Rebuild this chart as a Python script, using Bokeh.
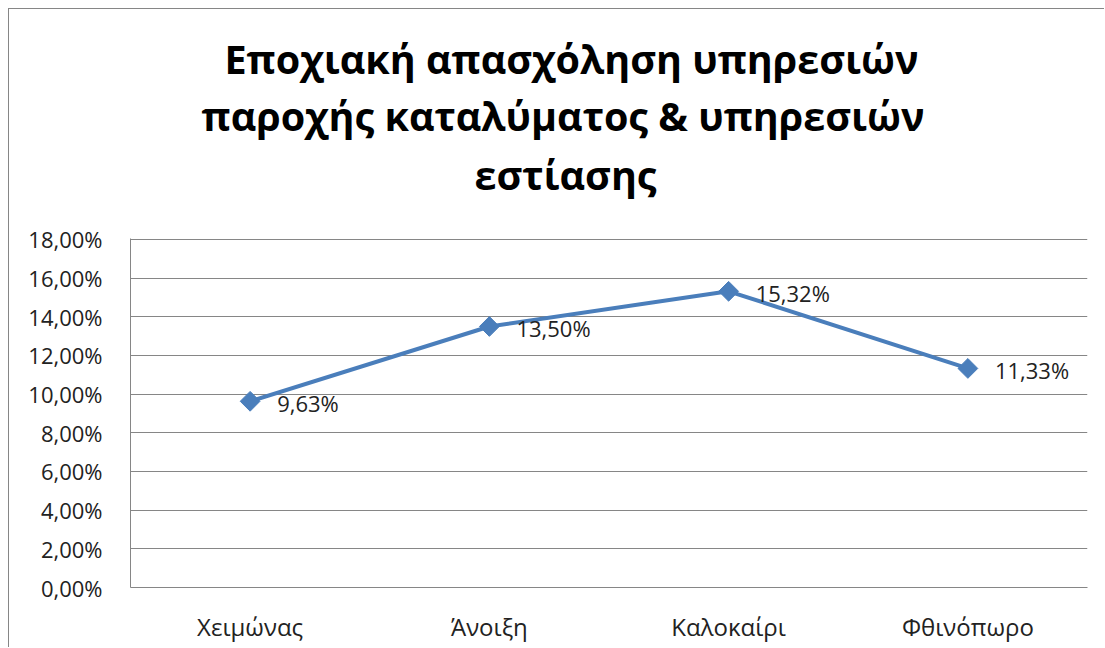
import math
from bokeh.plotting import figure
from bokeh.models import FactorRange, Range1d, FixedTicker, Title, ColumnDataSource
from bokeh.core.properties import value
from bokeh.embed import file_html
from bokeh.resources import INLINE

categories = ["Χειμώνας", "Άνοιξη", "Καλοκαίρι", "Φθινόπωρο"]
values = [9.63, 13.50, 15.32, 11.33]
y_ticks = [0, 2, 4, 6, 8, 10, 12, 14, 16, 18]
title_lines = ["Εποχιακή απασχόληση υπηρεσιών",
               "παροχής καταλύματος & υπηρεσιών",
               "εστίασης"]

FONT = "Open Sans"
BLUE = "#4A7EBB"
GRAY = "#868686"

W, H = 1096, 639
p = figure(width=W, height=H, x_range=FactorRange(*categories, range_padding=0),
           y_range=Range1d(0, 18.05), output_backend="svg", toolbar_location=None,
           min_border_left=121, min_border_right=18, min_border_top=229, min_border_bottom=61)
p.styles = {"margin-left": "8px", "margin-top": "8px",
            "border-left": f"1px solid {GRAY}", "border-top": f"1px solid {GRAY}"}
p.outline_line_color = None
p.background_fill_color = "white"
p.border_fill_color = "white"

p.yaxis.ticker = FixedTicker(ticks=y_ticks)
p.yaxis.major_label_overrides = {t: f"{t:.2f}%".replace(".", ",") for t in y_ticks}
p.yaxis.major_label_text_font = FONT
p.yaxis.major_label_text_font_size = "22px"
p.yaxis.major_label_text_color = "#222222"
p.yaxis.major_tick_line_color = None
p.yaxis.minor_tick_line_color = None
p.yaxis.axis_line_color = GRAY
p.yaxis.major_label_standoff = 22

p.xaxis.major_label_text_font = FONT
p.xaxis.major_label_text_font_size = "24px"
p.xaxis.major_label_text_color = "#222222"
p.xaxis.major_tick_line_color = None
p.xaxis.axis_line_color = GRAY
p.xaxis.major_label_standoff = 16

p.xgrid.grid_line_color = None
p.ygrid.grid_line_color = GRAY
p.ygrid.grid_line_width = 1

src = ColumnDataSource(dict(x=categories, y=values,
                            lab=[f"{v:.2f}%".replace(".", ",") for v in values]))
p.line("x", "y", source=src, line_color=BLUE, line_width=4)
p.scatter("x", "y", source=src, marker="square", size=14, angle=math.pi / 4,
          fill_color=BLUE, line_color=BLUE)
p.text("x", "y", text="lab", source=src, x_offset=27, y_offset=2,
       text_align="left", text_baseline="middle", text_font=value(FONT),
       text_font_size="22px", text_color="#222222")

# spacer between plot area and the title block
p.add_layout(Title(text=" ", text_font_size="12px", standoff=18), "above")
# title lines: added bottom-up (later titles stack further from the plot)
for t, so, off in zip(reversed(title_lines), [5, 2, 0], [344, 71, 94]):
    p.add_layout(Title(text=t, align="left", offset=off, standoff=so,
                       text_font=FONT, text_font_style="bold", text_font_size="39.5px",
                       text_color="black"), "above")

open("out.html", "w").write(file_html(p, INLINE))
